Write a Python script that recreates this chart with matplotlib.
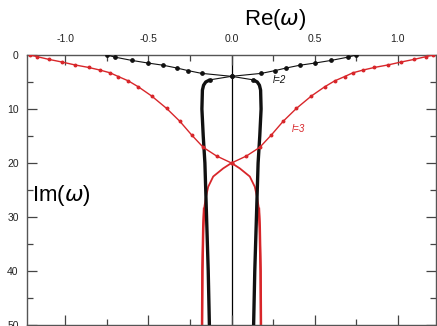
import matplotlib
matplotlib.use("Agg")
import matplotlib.pyplot as plt
import numpy as np
from matplotlib.ticker import MultipleLocator

plt.rcParams['font.family'] = ['Liberation Sans', 'DejaVu Sans']
plt.rcParams['mathtext.fontset'] = 'dejavusans'

# l=2 mode branch (right-hand branch; left one is its mirror image)
l2_upper_re = [-0.75, -0.70, -0.60, -0.50, -0.41, -0.33, -0.26, -0.18, 0.0, 0.13]
l2_upper_im = [0.0, 0.4, 1.0, 1.5, 1.9, 2.4, 2.9, 3.4, 3.95, 4.6]
l2_lower_re = [0.13, 0.155, 0.168, 0.175, 0.178, 0.17, 0.16, 0.15, 0.14, 0.133]
l2_lower_im = [4.6, 5.0, 5.6, 6.5, 10.0, 15.0, 20.0, 30.0, 40.0, 50.0]

# l=3 mode branch
l3_upper_re = [-1.21, -1.17, -1.10, -1.02, -0.94, -0.86, -0.79, -0.73, -0.68, -0.62,
               -0.56, -0.48, -0.39, -0.31, -0.24, -0.17, -0.09, 0.0]
l3_upper_im = [0.0, 0.3, 0.8, 1.3, 1.85, 2.3, 2.8, 3.3, 4.0, 4.8,
               5.9, 7.6, 9.9, 12.3, 14.8, 17.1, 18.7, 20.0]
l3_lower_re = [0.0, 0.05, 0.11, 0.14, 0.155, 0.165, 0.17, 0.175, 0.177]
l3_lower_im = [20.0, 21.0, 22.5, 24.4, 26.5, 28.5, 32.0, 40.0, 50.0]

xticks = [-1.0, -0.5, 0.0, 0.5, 1.0]
xticklabels = ['-1.0', '-0.5', '0.0', '0.5', '1.0']
yticks = [0, 10, 20, 30, 40, 50]

RED = '#d8262a'
BLK = '#111111'

fig = plt.figure(figsize=(4.37, 3.26), dpi=100)
ax = fig.add_axes([27/437, 1/326, 409/437, 270/326])

for s in (1, -1):
    ux = [s * v for v in l2_upper_re]
    lx = [s * v for v in l2_lower_re]
    ax.plot(ux, l2_upper_im, color=BLK, lw=0.8, marker='o', ms=2.4, zorder=4)
    ax.plot(lx, l2_lower_im, color=BLK, lw=2.4, solid_capstyle='butt', zorder=3)
    rx = [s * v for v in l3_upper_re]
    rlx = [s * v for v in l3_lower_re]
    ax.plot(rx, l3_upper_im, color=RED, lw=1.0, marker='o', ms=1.8, zorder=4)
    ax.plot(rlx, l3_lower_im, color=RED, lw=1.3, zorder=2)
    ax.plot(rlx[5:], l3_lower_im[5:], color=RED, lw=1.8, zorder=2)

ax.axvline(0, color='black', lw=0.9, zorder=1)

ax.set_xlim(-1.23, 1.23)
ax.set_ylim(50, 0)
ax.set_xticks(xticks)
ax.set_xticklabels(xticklabels)
ax.xaxis.set_minor_locator(MultipleLocator(0.25))
ax.set_yticks(yticks)
ax.yaxis.set_minor_locator(MultipleLocator(5))
ax.tick_params(axis='x', which='both', direction='in', top=True, bottom=True,
               labeltop=True, labelbottom=False, labelsize=7.5, colors='#444444',
               labelcolor='#222222', pad=8)
ax.tick_params(axis='y', which='both', direction='in', left=True, right=True,
               labelsize=7.5, colors='#444444', labelcolor='#222222', pad=6)
ax.tick_params(which='major', length=7, width=0.9)
ax.tick_params(which='minor', length=4, width=0.9)
for sp in ax.spines.values():
    sp.set_color('#555555')
    sp.set_linewidth(1.0)

fig.text(275/437, 1 - 20/326, r'Re($\omega$)', fontsize=16, ha='center', va='center')
fig.text(61/437, 1 - 195/326, r'Im($\omega$)', fontsize=16, ha='center', va='center')
ax.text(0.29, 4.6, 'l=2', fontsize=7, style='italic', color=BLK, ha='center', va='center')
ax.text(0.40, 13.7, 'l=3', fontsize=7, style='italic', color=RED, ha='center', va='center')

fig.savefig('out.png', dpi=100)
